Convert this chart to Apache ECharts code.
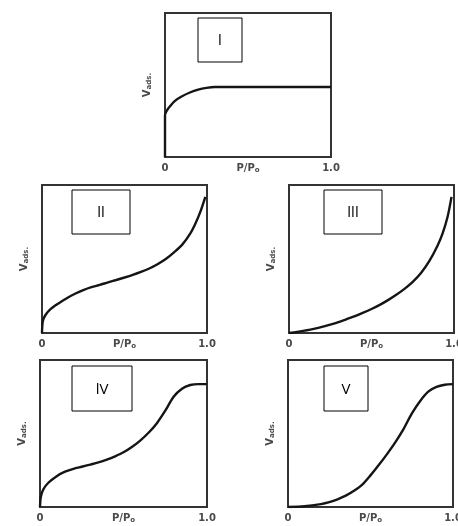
<!DOCTYPE html>
<html>
<head>
<meta charset="utf-8">
<script src="https://cdn.jsdelivr.net/npm/echarts@6/dist/echarts.min.js"></script>
<style>
  html, body { margin: 0; padding: 0; background: #fff; }
  #chart { width: 458px; height: 526px; }
</style>
</head>
<body>
<div id="chart"></div>
<script>
// Adsorption isotherm types: amount adsorbed (V_ads.) against relative pressure (P/P0)
const typeLabels = ['l', 'll', 'lll', 'lV', 'V'];
const tickLabels = ['0', '1.0'];

// Type I: steep uptake then a flat plateau
const typeI = [[0, 0], [0, 0.29], [0.01, 0.32], [0.03, 0.352], [0.06, 0.39], [0.1, 0.42], [0.15, 0.448],
  [0.2, 0.468], [0.25, 0.48], [0.3, 0.486], [0.4, 0.486], [0.6, 0.486], [0.8, 0.486], [1.0, 0.486]];
// Type II: knee at low pressure, rising sharply near saturation
const typeII = [[0, 0], [0.005, 0.08], [0.02, 0.12], [0.05, 0.16], [0.1, 0.2], [0.15, 0.235], [0.2, 0.265],
  [0.25, 0.29], [0.3, 0.31], [0.35, 0.325], [0.4, 0.342], [0.45, 0.358], [0.5, 0.375], [0.55, 0.393],
  [0.6, 0.413], [0.65, 0.436], [0.7, 0.465], [0.75, 0.5], [0.8, 0.545], [0.85, 0.597], [0.9, 0.675],
  [0.93, 0.74], [0.96, 0.82], [0.99, 0.92]];
// Type III: convex over the whole range
const typeIII = [[0, 0], [0.05, 0.007], [0.1, 0.017], [0.15, 0.028], [0.2, 0.041], [0.25, 0.057], [0.3, 0.074],
  [0.35, 0.094], [0.4, 0.114], [0.45, 0.137], [0.5, 0.162], [0.55, 0.19], [0.6, 0.222], [0.65, 0.258],
  [0.7, 0.298], [0.75, 0.345], [0.8, 0.405], [0.85, 0.485], [0.9, 0.59], [0.93, 0.67], [0.96, 0.78], [0.985, 0.92]];
// Type IV: knee, then capillary-condensation step and plateau
const typeIV = [[0, 0], [0.005, 0.07], [0.02, 0.12], [0.05, 0.165], [0.1, 0.21], [0.15, 0.24], [0.2, 0.26],
  [0.25, 0.274], [0.3, 0.288], [0.35, 0.303], [0.4, 0.322], [0.45, 0.345], [0.5, 0.372], [0.55, 0.408],
  [0.6, 0.452], [0.65, 0.505], [0.7, 0.57], [0.75, 0.655], [0.8, 0.75], [0.85, 0.805], [0.9, 0.83],
  [0.95, 0.836], [1.0, 0.836]];
// Type V: convex start, step and plateau
const typeV = [[0, 0], [0.1, 0.005], [0.2, 0.02], [0.25, 0.033], [0.3, 0.052], [0.35, 0.077], [0.4, 0.11],
  [0.45, 0.152], [0.5, 0.215], [0.55, 0.285], [0.6, 0.36], [0.65, 0.44], [0.7, 0.53], [0.75, 0.635],
  [0.8, 0.72], [0.85, 0.785], [0.9, 0.817], [0.95, 0.832], [1.0, 0.836]];

const curves = [typeI, typeII, typeIII, typeIV, typeV];

// Panel frames (pixels) and label boxes
const panels = [
  { left: 165, top: 13, width: 166, height: 144, box: [198, 18, 44, 44] },
  { left: 42, top: 185, width: 165, height: 148, box: [72, 190, 58, 44] },
  { left: 289, top: 185, width: 165, height: 148, box: [324, 190, 58, 44] },
  { left: 40, top: 360, width: 167, height: 147, box: [72, 366, 60, 45] },
  { left: 288, top: 360, width: 165, height: 147, box: [324, 366, 44, 45] }
];

const txtColor = '#4a4a4a';
const nameRich = {
  a: { fontSize: 10, fontWeight: 'bold', color: txtColor, fontFamily: 'DejaVu Sans' },
  s: { fontSize: 7, fontWeight: 'bold', color: txtColor, fontFamily: 'DejaVu Sans', verticalAlign: 'bottom', padding: [4, 0, 0, 0] }
};

const grid = [], xAxis = [], yAxis = [], series = [], graphic = [];
panels.forEach((p, i) => {
  grid.push({
    left: p.left, top: p.top, width: p.width, height: p.height,
    outerBoundsMode: 'none', containLabel: false,
    show: true, borderColor: '#333', borderWidth: 2, backgroundColor: 'transparent'
  });
  xAxis.push({
    type: 'value', gridIndex: i, min: 0, max: 1, interval: 1,
    axisLine: { show: false }, axisTick: { show: false }, splitLine: { show: false },
    axisLabel: {
      margin: 6, fontSize: 10, fontWeight: 'bold', color: txtColor, fontFamily: 'DejaVu Sans',
      formatter: v => tickLabels[v === 0 ? 0 : 1]
    },
    name: '{a|P/P}{s|o}', nameLocation: 'middle', nameGap: 6, nameMoveOverlap: false,
    nameTextStyle: { rich: nameRich }
  });
  yAxis.push({
    type: 'value', gridIndex: i, min: 0, max: 1,
    axisLine: { show: false }, axisTick: { show: false }, splitLine: { show: false },
    axisLabel: { show: false },
    name: '{a|V}{s|ads.}', nameLocation: 'middle', nameGap: 12, nameRotate: 90, nameMoveOverlap: false,
    nameTextStyle: { rich: nameRich }
  });
  series.push({
    type: 'line', xAxisIndex: i, yAxisIndex: i, data: curves[i],
    smooth: 0.3, showSymbol: false, clip: true,
    lineStyle: { color: '#151515', width: 2.4 }
  });
  const b = p.box;
  graphic.push({
    type: 'rect', shape: { x: b[0], y: b[1], width: b[2], height: b[3] },
    style: { fill: '#fff', stroke: '#000', lineWidth: 1 }, z: 100
  });
  graphic.push({
    type: 'text', x: b[0] + b[2] / 2, y: b[1] + b[3] / 2 + 1,
    style: {
      text: typeLabels[i], fill: '#000', font: '15px "Open Sans"',
      align: 'center', verticalAlign: 'middle'
    }, z: 101
  });
});

const chart = echarts.init(document.getElementById('chart'), null, { renderer: 'canvas' });
chart.setOption({
  animation: false,
  backgroundColor: '#fff',
  grid, xAxis, yAxis, series, graphic
});
</script>
</body>
</html>
